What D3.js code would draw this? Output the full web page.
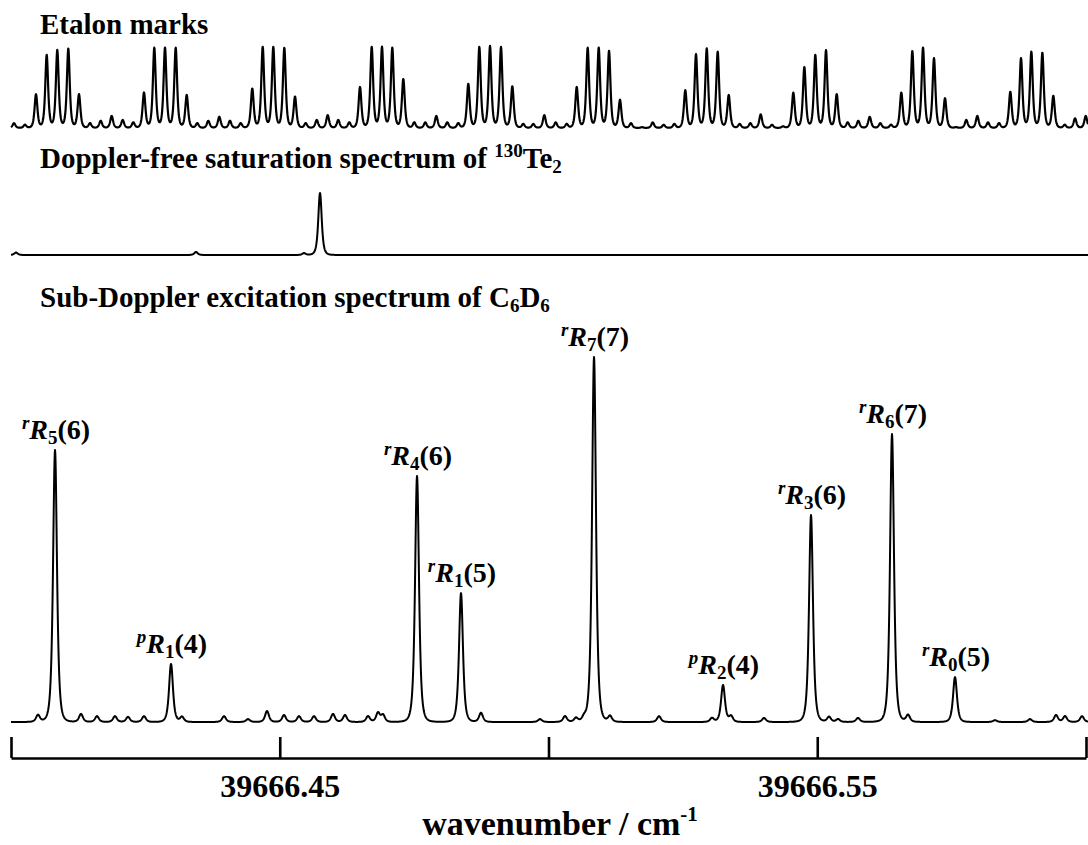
<!DOCTYPE html>
<html><head><meta charset="utf-8">
<script src="https://cdn.jsdelivr.net/npm/d3@7"></script>
<style>html,body{margin:0;padding:0;background:#fff;}svg{display:block;}</style>
</head><body>
<svg id="chart" width="1088" height="845"></svg>
<script>
// ---------- data (wavenumbers in cm^-1, intensities in arbitrary units) ----------
const axisTicks = [39666.40, 39666.45, 39666.50, 39666.55, 39666.60];
const axisTickLabels = ["", "39666.45", "", "39666.55", ""];

// etalon transmission peaks
const etalonPos = [
 39666.40056,39666.40260,39666.40465,39666.40664,39666.40861,39666.41066,39666.41265,39666.41470,39666.41669,39666.41873,
 39666.42078,39666.42275,39666.42474,39666.42666,39666.42865,39666.43064,39666.43269,39666.43466,39666.43671,39666.43875,
 39666.44074,39666.44274,39666.44489,39666.44683,39666.44880,39666.45085,39666.45284,39666.45483,39666.45688,39666.45892,
 39666.46089,39666.46294,39666.46493,39666.46711,39666.46902,39666.47094,39666.47299,39666.47503,39666.47708,39666.47913,
 39666.48117,39666.48322,39666.48508,39666.48713,39666.48912,39666.49116,39666.49327,39666.49531,39666.49717,39666.49922,
 39666.50134,39666.50339,39666.50525,39666.50729,39666.50934,39666.51126,39666.51330,39666.51535,39666.51740,39666.51939,
 39666.52143,39666.52341,39666.52545,39666.52744,39666.52944,39666.53148,39666.53353,39666.53557,39666.53755,39666.53948,
 39666.54158,39666.54363,39666.54555,39666.54760,39666.54964,39666.55163,39666.55362,39666.55567,39666.55764,39666.55976,
 39666.56173,39666.56372,39666.56564,39666.56769,39666.56968,39666.57172,39666.57377,39666.57582,39666.57773,39666.57978,
 39666.58177,39666.58382,39666.58592,39666.58791,39666.58983,39666.59188,39666.59392,39666.59604,39666.59796,39666.59995
];
const etalonInt = [
 6,4,42,91,97,99,42,6,9,15,
 10,7,44,100,100,100,41,6,9,14,
 9,6,49,101,101,100,39,6,10,16,
 10,7,51,101,101,100,61,7,7,15,
 7,6,55,101,102,101,52,5,5,16,
 7,5,51,100,100,96,35,6,1,7,
 4,5,47,92,99,95,41,5,6,17,
 4,2,44,76,91,97,42,7,9,14,
 6,4,44,96,100,87,37,1,10,15,
 7,6,45,87,95,94,40,4,12,15
];

// Doppler-free 130Te2 saturation spectrum
const tePos = [39666.40093, 39666.43442, 39666.45451, 39666.45749];
const teInt = [4, 5, 3, 100];

// Sub-Doppler excitation spectrum of C6D6 : assigned lines
const linePos = [39666.40819, 39666.42977, 39666.47554, 39666.48372, 39666.50847, 39666.53247, 39666.54884, 39666.56391, 39666.57563];
const lineInt = [74.5, 15.9, 67.4, 35.3, 100, 10.1, 56.7, 78.9, 12.3];
const lineBranch = ["r", "p", "r", "r", "r", "p", "r", "r", "r"];
const lineK = ["5", "1", "4", "1", "7", "2", "3", "6", "0"];
const lineJ = ["6", "4", "6", "5", "7", "4", "6", "7", "5"];

// weak unassigned features
const weakPos = [
 39666.40502,39666.41302,39666.41600,39666.41935,39666.42177,39666.42474,39666.43181,39666.43963,39666.44409,39666.44763,
 39666.45079,39666.45358,39666.45637,39666.45991,39666.46214,39666.46642,39666.46828,39666.46921,39666.48744,39666.49842,
 39666.50307,39666.50512,39666.50661,39666.51144,39666.52056,39666.53042,39666.53396,39666.54010,39666.55219,39666.55386,
 39666.55758,39666.56689,39666.58307,39666.58958,39666.59442,39666.59610,39666.59926
];
const weakInt = [
 1.9,2.2,1.6,1.6,1.4,1.6,1.4,1.6,0.8,3.0,
 1.9,1.6,1.6,2.2,1.9,1.6,2.5,1.9,2.5,0.8,
 1.6,1.1,1.1,1.6,1.6,1.1,1.6,1.1,1.4,0.8,
 1.1,1.9,0.5,0.8,1.9,1.6,1.6
];

// ---------- drawing ----------
const FONT = "'Liberation Serif','Times New Roman',Times,serif";
const svg = d3.select("#chart");
svg.append("rect").attr("width", 1088).attr("height", 845).attr("fill", "#fff");

const x = d3.scaleLinear().domain([39666.40, 39666.60]).range([11, 1086]);
const yEtalon = d3.scaleLinear().domain([0, 100]).range([128, 48]);
const yTe = d3.scaleLinear().domain([0, 100]).range([255, 193]);
const yMain = d3.scaleLinear().domain([0, 100]).range([722, 357]);

// spectral line profile: each peak is drawn as a narrow line shape of given half width
function profile(pos, ints, hw) {
  const pts = [];
  const w0 = x.invert(11), w1 = x.invert(1088);
  const n = 4308, step = (w1 - w0) / n;
  for (let i = 0; i <= n; i++) {
    const w = w0 + i * step;
    let s = 0;
    for (let k = 0; k < pos.length; k++) {
      const u = (w - pos[k]) / hw;
      const q = 1 + u * u;
      s += ints[k] / (q * q);
    }
    pts.push([w, s]);
  }
  return pts;
}

function drawTrace(pts, yScale, sw) {
  svg.append("path")
    .datum(pts)
    .attr("fill", "none")
    .attr("stroke", "#000")
    .attr("stroke-width", sw)
    .attr("stroke-linejoin", "round")
    .attr("d", d3.line().x(d => x(d[0])).y(d => yScale(d[1])));
}

drawTrace(profile(etalonPos, etalonInt, 0.00048), yEtalon, 2.2);
drawTrace(profile(tePos, teInt, 0.00058), yTe, 2);
drawTrace(profile(linePos.concat(weakPos), lineInt.concat(weakInt), 0.00066), yMain, 2);

// panel titles
function title(y) {
  return svg.append("text").attr("x", 40).attr("y", y)
    .attr("font-family", FONT).attr("font-weight", "bold").attr("font-size", 29).attr("fill", "#000");
}
title(34).text("Etalon marks");
const t2 = title(168);
t2.append("tspan").text("Doppler-free saturation spectrum of ");
t2.append("tspan").attr("font-size", 19).attr("dy", -11).text("130");
t2.append("tspan").attr("dy", 11).text("Te");
t2.append("tspan").attr("font-size", 19).attr("dy", 5).text("2");
const t3 = title(307);
t3.append("tspan").text("Sub-Doppler excitation spectrum of C");
t3.append("tspan").attr("font-size", 19).attr("dy", 5).text("6");
t3.append("tspan").attr("dy", -5).text("D");
t3.append("tspan").attr("font-size", 19).attr("dy", 5).text("6");

// line assignments
linePos.forEach((p, i) => {
  const t = svg.append("text")
    .attr("x", x(p) + 1).attr("y", yMain(lineInt[i]) - 11)
    .attr("text-anchor", "middle")
    .attr("font-family", FONT).attr("font-weight", "bold").attr("font-size", 28).attr("fill", "#000");
  t.append("tspan").attr("font-style", "italic").attr("font-size", 19).attr("dy", -10).text(lineBranch[i]);
  t.append("tspan").attr("font-style", "italic").attr("dy", 10).text("R");
  t.append("tspan").attr("font-size", 19).attr("dy", 5).text(lineK[i]);
  t.append("tspan").attr("dy", -5).text("(" + lineJ[i] + ")");
});

// x axis
const axis = d3.axisBottom(x)
  .tickValues(axisTicks)
  .tickFormat((d, i) => axisTickLabels[i])
  .tickSize(-21).tickSizeOuter(0).tickPadding(16);
const gAxis = svg.append("g").attr("transform", "translate(0,758)").call(axis);
gAxis.select(".domain").attr("stroke", "#000").attr("stroke-width", 2.6);
gAxis.selectAll(".tick line").attr("stroke", "#000").attr("stroke-width", 2.6);
gAxis.selectAll(".tick text")
  .attr("font-family", FONT).attr("font-weight", "bold").attr("font-size", 32).attr("fill", "#000");

const xl = svg.append("text").attr("x", 560).attr("y", 835).attr("text-anchor", "middle")
  .attr("font-family", FONT).attr("font-weight", "bold").attr("font-size", 34).attr("fill", "#000");
xl.append("tspan").text("wavenumber / cm");
xl.append("tspan").attr("font-size", 21).attr("dy", -14).text("-1");
</script>
</body></html>
